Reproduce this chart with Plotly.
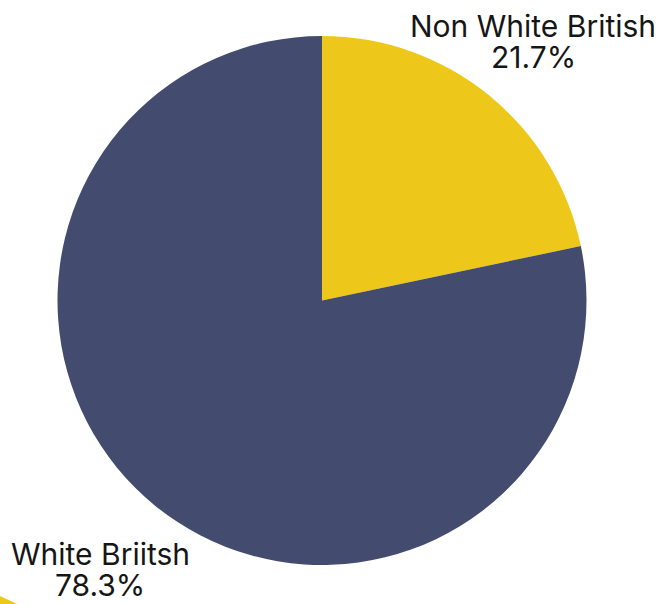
import plotly.graph_objects as go

labels = ["Non White British", "White Briitsh"]
values = [21.7, 78.3]
colors = ["#EDC81A", "#434C6E"]

W, H = 660, 604
fig = go.Figure(go.Pie(
    labels=labels, values=values, sort=False, direction="clockwise", rotation=0,
    marker=dict(colors=colors, line=dict(width=0)),
    textinfo="none", hoverinfo="label+percent", showlegend=False,
    domain=dict(x=[57/W, 587/W], y=[1-565/H, 1-36/H]),
))

total = sum(values)
# (center x, line1 center y, line2 center y) in pixels
label_pos = [(533, 26, 57), (100, 554, 585)]
font = dict(family="Inter, Roboto, sans-serif", size=30, color="#161616")
for lab, val, (px, py1, py2) in zip(labels, values, label_pos):
    for txt, py in ((lab, py1), (f"{val/total*100:.1f}%", py2)):
        fig.add_annotation(
            x=px/W, y=1-py/H, xref="paper", yref="paper",
            text=txt, showarrow=False, font=font, height=30,
            xanchor="center", yanchor="middle", valign="middle",
        )

# small yellow fragment in the bottom-left corner of the reference
fig.add_shape(type="path", xref="paper", yref="paper",
              path=f"M 0 {1-596/H} L {17/W} 0 L 0 0 Z",
              fillcolor=colors[0], line=dict(width=0))

fig.update_layout(
    width=W, height=H, margin=dict(l=0, r=0, t=0, b=0),
    paper_bgcolor="white", plot_bgcolor="white",
)
fig.write_html("out.html", config={"displayModeBar": False},
               post_script="document.body.style.margin='0';")
